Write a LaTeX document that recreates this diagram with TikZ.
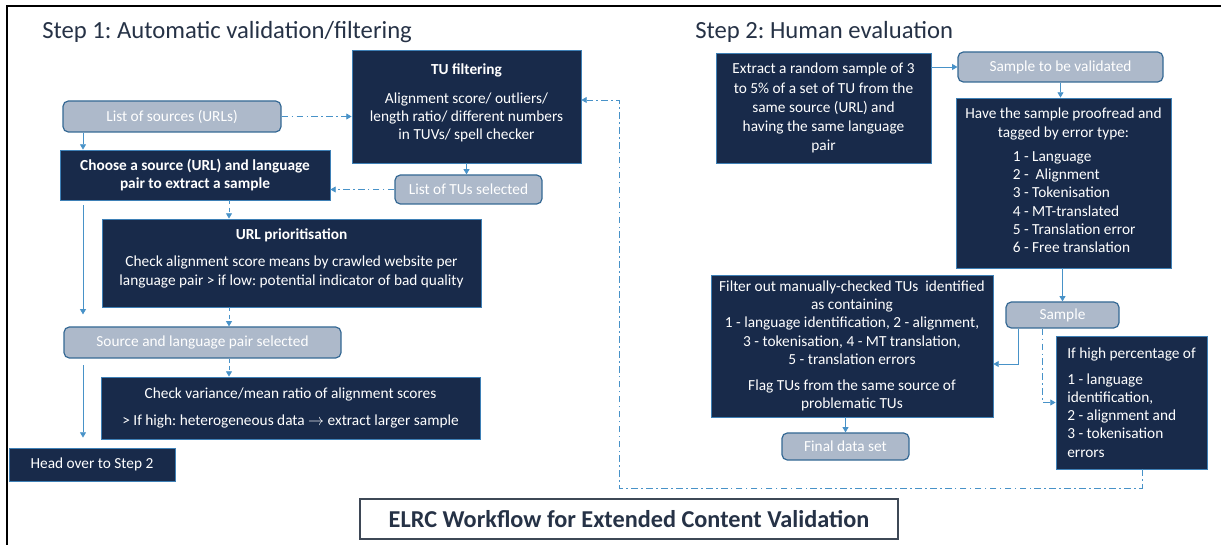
\documentclass[tikz,border=0pt]{standalone}
\usepackage{fontspec}
\setmainfont{Carlito}
\usepackage{tikz}
\usetikzlibrary{calc,positioning,arrows.meta}
\frenchspacing
\definecolor{navy}{RGB}{24,42,74}
\definecolor{navyedge}{RGB}{62,128,182}
\definecolor{greyfill}{RGB}{173,185,202}
\definecolor{greyedge}{RGB}{52,104,148}
\definecolor{flowblue}{RGB}{72,146,200}
\definecolor{titlegrey}{RGB}{38,50,70}
\definecolor{frameslate}{RGB}{62,72,86}
\tikzset{
darkbox/.style={draw=navyedge, fill=navy, text=white, line width=0.6pt, align=center, inner sep=0pt, font=\fontsize{11.5}{13.6}\selectfont},
greybox/.style={draw=greyedge, fill=greyfill, text=white, rounded corners=4pt, line width=0.9pt, align=center, inner sep=0pt, font=\fontsize{11.5}{13.6}\selectfont},
steptitle/.style={anchor=west, inner sep=0pt, text=titlegrey, font=\fontsize{18.5}{21}\selectfont},
}
\tikzset{
flow/.style={draw=flowblue, line width=0.7pt, -{Triangle[width=4.5pt,length=4pt]}},
dflow/.style={flow, dash pattern=on 3pt off 2.5pt},
ddflow/.style={flow, dash pattern=on 5pt off 2.5pt on 1.2pt off 2.5pt},
}

\begin{document}
\begin{tikzpicture}[x=0.75pt,y=0.75pt,yscale=-1,xscale=1]
\useasboundingbox (0,0) rectangle (1229,545);
%Frame
\draw[line width=2.2pt] (7,545) -- (7,6) -- (1221,6);
%Titles
\node[steptitle] (st1) at (42,32) {Step 1: Automatic validation/filtering};
\node[steptitle] (st2) at (695,32) {Step 2: Human evaluation};
\node[draw=frameslate, line width=1.4pt, minimum width=403.5pt, minimum height=30pt, text=titlegrey, font=\fontsize{18.2}{20}\selectfont\bfseries] (wftitle) at (629,519) {ELRC Workflow for Extended Content Validation};
%Step 1 boxes
\node[darkbox, minimum width=171.75pt, minimum height=84.75pt] (tuf) at (466.5,106.5) {\textbf{TU filtering}\\[8pt]Alignment score/ outliers/\\length ratio/ different numbers\\in TUVs/ spell checker\\[-6pt]};
\node[greybox, minimum width=163.5pt, minimum height=23.25pt] (srcs) at (172,116.5) {List of sources (URLs)};
\node[darkbox, minimum width=202.5pt, minimum height=37.5pt, font=\fontsize{11.5}{13.6}\selectfont\bfseries] (choose) at (195,175) {Choose a source (URL) and language\\pair to extract a sample};
\node[greybox, minimum width=110.25pt, minimum height=21.75pt] (tusel) at (468.5,189.5) {List of TUs selected};
\node[darkbox, minimum width=284.25pt, minimum height=66pt] (urlp) at (291.5,263) {\textbf{URL prioritisation}\\[7pt]Check alignment score means by crawled website per\\language pair > if low: potential indicator of bad quality\\[-4.5pt]};
\node[greybox, minimum width=207.75pt, minimum height=23.25pt] (srcsel) at (202.5,342.5) {Source and language pair selected};
\node[darkbox, minimum width=284.25pt, minimum height=46.5pt] (checkv) at (290.5,408) {Check variance/mean ratio of alignment scores\\[6pt]> If high: heterogeneous data $\rightarrow$ extract larger sample};
\node[darkbox, minimum width=124.5pt, minimum height=24.75pt] (head) at (92,464.5) {Head over to Step 2};
%Step 2 boxes
\node[darkbox, minimum width=161.25pt, minimum height=82.5pt, font=\fontsize{11.5}{14.3}\selectfont] (extract) at (823.5,108) {Extract a random sample of 3\\to 5\% of a set of TU from the\\same source (URL) and\\having the same language\\pair};
\node[greybox, minimum width=153.75pt, minimum height=22.5pt] (tobeval) at (1060.5,67) {Sample to be validated};
\node[darkbox, minimum width=161.25pt, minimum height=127.5pt] (proof) at (1063.5,183) {Have the sample proofread and\\tagged by error type:\\[6pt]\hspace*{16pt}\begin{tabular}{@{}l@{}}1 - Language\\2 - \ Alignment\\3 - Tokenisation\\4 - MT-translated\\5 - Translation error\\6 - Free translation\end{tabular}};
\node[greybox, minimum width=84.75pt, minimum height=19.5pt] (sample) at (1062.5,315) {Sample};
\node[darkbox, minimum width=211.5pt, minimum height=106.5pt] (filter) at (852,346) {Filter out manually-checked TUs\ \ identified\\as containing\\1 - language identification, 2 - alignment,\\3 - tokenisation, 4 - MT translation,\\5 - translation errors\\[6pt]Flag TUs from the same source of\\problematic TUs};
\node[greybox, minimum width=95.25pt, minimum height=20.25pt] (final) at (845.5,446.5) {Final data set};
\node[darkbox, minimum width=113.25pt, minimum height=99.75pt, align=left] (ifhigh) at (1131.5,402.5) {If high percentage of\\[6pt]1 - language\\identification,\\2 - alignment and\\3 - tokenisation\\errors};
%Connectors step 1
\coordinate (lx) at (83,0);
\coordinate (dx) at (229,0);
\draw[ddflow] (srcs.east) -- (srcs.east -| tuf.west);
\draw[flow] (lx |- srcs.south) -- (lx |- choose.north);
\draw[flow] (tuf.south) -- (tuf.south |- tusel.north);
\draw[ddflow] (tusel.west) -- (tusel.west -| choose.east);
\draw[dflow] (dx |- choose.south) -- (dx |- urlp.north);
\draw[dflow] (dx |- urlp.south) -- (dx |- srcsel.north);
\draw[dflow] (dx |- srcsel.south) -- (dx |- checkv.north);
\draw[flow, shorten <=3.5pt, shorten >=9pt] (lx |- choose.south) -- (lx |- srcsel.north);
\draw[flow, shorten <=5pt, shorten >=7.5pt] (lx |- srcsel.south) -- (lx |- head.north);
%Connectors step 2
\draw[flow] (tobeval.west -| extract.east) -- (tobeval.west);
\draw[flow] (tobeval.south) -- (tobeval.south |- proof.north);
\draw[flow] (sample.north |- proof.south) -- (sample.north);
\draw[flow] ($(sample.south west)+(13,0)$) |- ($(filter.east)+(0,18)$);
\draw[ddflow] ($(sample.south west)+(37,0)$) |- (ifhigh.west);
\draw[flow] (final.north |- filter.south) -- (final.north);
%Loop back
\coordinate (loopbot) at (619,488);
\draw[ddflow] ($(ifhigh.south)+(10.5,0)$) |- (loopbot) |- ($(tuf.east)+(0,-6.5)$);
\end{tikzpicture}
\end{document}
